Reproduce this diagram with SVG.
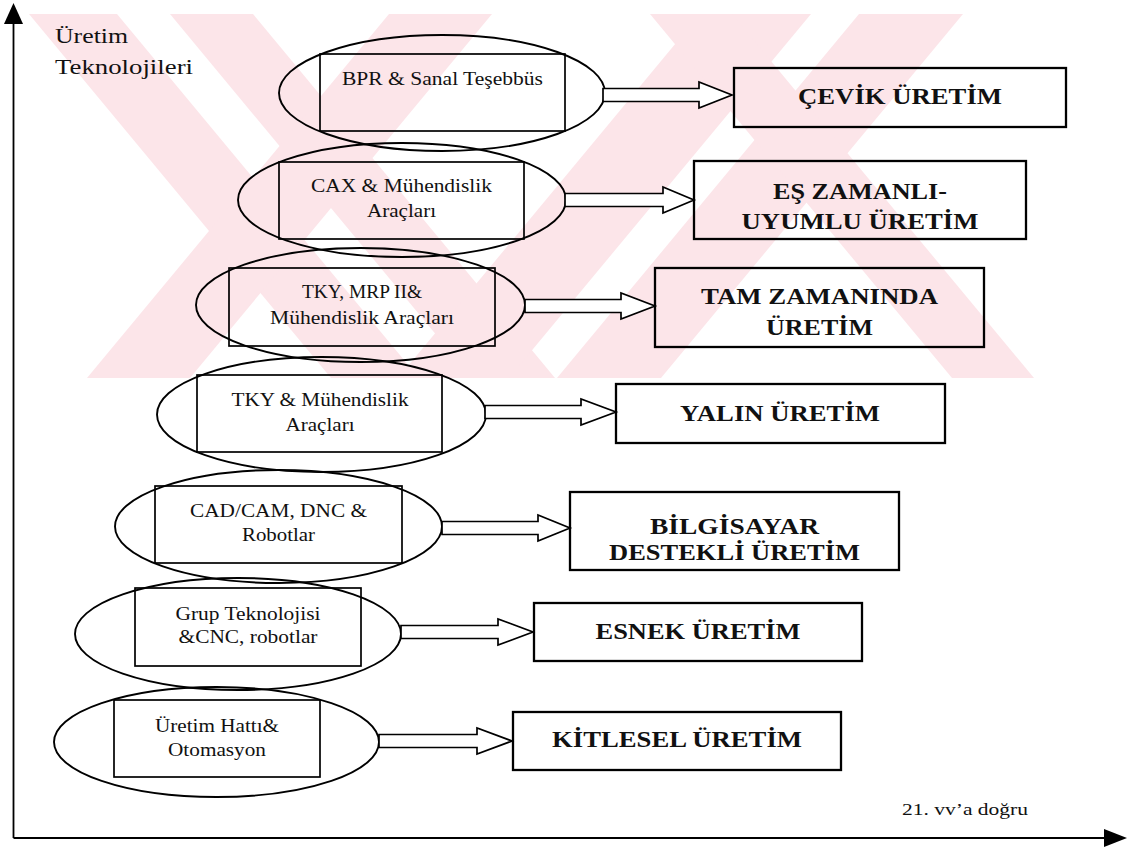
<svg xmlns="http://www.w3.org/2000/svg" width="1129" height="847" viewBox="0 0 1129 847">
  <style>
    .wm { fill: #fce5e9; stroke: none; }
    .ell { fill: none; stroke: #000; stroke-width: 1.9; }
    .inner { fill: none; stroke: #000; stroke-width: 1.7; }
    .box { fill: none; stroke: #000; stroke-width: 2.3; }
    .arrow { fill: #fff; stroke: #000; stroke-width: 1.7; stroke-linejoin: miter; }
    .axis { fill: none; stroke: #000; stroke-width: 1.8; }
    .head { fill: #000; stroke: none; }
    text { fill: #111; }
  </style>
  <defs>
    <clipPath id="wmClip">
      <rect x="25" y="14" width="1020" height="364"/>
    </clipPath>
  </defs>

  <rect width="1129" height="847" fill="#fff"/>

  <!-- faint background emblem -->
  <g id="watermark" clip-path="url(#wmClip)">
    <polygon class="wm" points="29,14 117,14 419,378 331,378"/>
    <polygon class="wm" points="170,14 253,14 555,378 472,378"/>
    <polygon class="wm" points="859,14 963,14 661,378 557,378"/>
    <polygon class="wm" points="700,14 811,14 509,378 398,378"/>
    <polygon class="wm" points="650,14 732,14 1034,378 952,378"/>
    <polygon class="wm" points="389,14 492,14 190,378 87,378"/>
  </g>

  <!-- axes -->
  <g id="axes" font-family="'Liberation Serif', 'DejaVu Serif', serif">
    <line class="axis" x1="13.5" y1="20" x2="13.5" y2="838"/>
    <polygon class="head" points="13.5,3 4,24 23,24"/>
    <line class="axis" x1="13.5" y1="838" x2="1106" y2="838"/>
    <polygon class="head" points="1127,838 1104,829 1104,847"/>
    <text x="55" y="43" font-size="21" textLength="73" lengthAdjust="spacingAndGlyphs">Üretim</text>
    <text x="55" y="74" font-size="21" textLength="138" lengthAdjust="spacingAndGlyphs">Teknolojileri</text>
    <text x="902" y="815" font-size="17" textLength="126" lengthAdjust="spacingAndGlyphs">21. vv’a doğru</text>
  </g>

  <!-- technology nodes -->
  <g font-family="'Liberation Serif', 'DejaVu Serif', serif" font-size="19" text-anchor="middle">
    <g id="tech-bpr">
      <ellipse class="ell" cx="442" cy="93" rx="163" ry="58"/>
      <rect class="inner" x="320" y="54" width="245" height="77"/>
      <text x="442.5" y="85" textLength="201" lengthAdjust="spacingAndGlyphs">BPR &amp; Sanal Teşebbüs</text>
    </g>
    <g id="tech-cax">
      <ellipse class="ell" cx="402" cy="200" rx="164" ry="57"/>
      <rect class="inner" x="279" y="162" width="245" height="77"/>
      <text x="401.5" y="192" textLength="181" lengthAdjust="spacingAndGlyphs">CAX &amp; Mühendislik</text>
      <text x="401.5" y="217" textLength="69" lengthAdjust="spacingAndGlyphs">Araçları</text>
    </g>
    <g id="tech-tky-mrp">
      <ellipse class="ell" cx="360.5" cy="305" rx="164.5" ry="57"/>
      <rect class="inner" x="229" y="268" width="266" height="78"/>
      <text x="362" y="298" textLength="120" lengthAdjust="spacingAndGlyphs">TKY, MRP II&amp;</text>
      <text x="362" y="324" textLength="184" lengthAdjust="spacingAndGlyphs">Mühendislik Araçları</text>
    </g>
    <g id="tech-tky">
      <ellipse class="ell" cx="321.5" cy="414.5" rx="164.5" ry="57.5"/>
      <rect class="inner" x="197" y="375" width="245" height="77"/>
      <text x="320" y="406" textLength="177" lengthAdjust="spacingAndGlyphs">TKY &amp; Mühendislik</text>
      <text x="320" y="431" textLength="69" lengthAdjust="spacingAndGlyphs">Araçları</text>
    </g>
    <g id="tech-cadcam">
      <ellipse class="ell" cx="278.5" cy="526.5" rx="163.5" ry="56.5"/>
      <rect class="inner" x="155" y="486" width="247" height="77"/>
      <text x="278.5" y="517" textLength="177" lengthAdjust="spacingAndGlyphs">CAD/CAM, DNC &amp;</text>
      <text x="278.5" y="541" textLength="73" lengthAdjust="spacingAndGlyphs">Robotlar</text>
    </g>
    <g id="tech-grup">
      <ellipse class="ell" cx="238" cy="634" rx="163" ry="56"/>
      <rect class="inner" x="135" y="588" width="226" height="78"/>
      <text x="248" y="620" textLength="145" lengthAdjust="spacingAndGlyphs">Grup Teknolojisi</text>
      <text x="248" y="643" textLength="139" lengthAdjust="spacingAndGlyphs">&amp;CNC, robotlar</text>
    </g>
    <g id="tech-hat">
      <ellipse class="ell" cx="216.5" cy="742" rx="162.5" ry="55"/>
      <rect class="inner" x="114" y="700" width="206" height="77"/>
      <text x="217" y="732" textLength="124" lengthAdjust="spacingAndGlyphs">Üretim Hattı&amp;</text>
      <text x="217" y="756" textLength="98" lengthAdjust="spacingAndGlyphs">Otomasyon</text>
    </g>
  </g>

  <!-- production paradigm nodes -->
  <g font-family="'Liberation Serif', 'DejaVu Serif', serif" font-size="24" font-weight="bold" text-anchor="middle">
    <g id="mode-cevik">
      <rect class="box" x="734" y="68" width="332" height="59"/>
      <text x="900" y="104" textLength="204" lengthAdjust="spacingAndGlyphs">ÇEVİK ÜRETİM</text>
    </g>
    <g id="mode-es-zamanli">
      <rect class="box" x="694" y="161" width="332" height="78"/>
      <text x="860" y="199" textLength="174" lengthAdjust="spacingAndGlyphs">EŞ ZAMANLI-</text>
      <text x="860" y="229" textLength="237" lengthAdjust="spacingAndGlyphs">UYUMLU ÜRETİM</text>
    </g>
    <g id="mode-tam-zamaninda">
      <rect class="box" x="655" y="268" width="329" height="79"/>
      <text x="819.5" y="304" textLength="237" lengthAdjust="spacingAndGlyphs">TAM ZAMANINDA</text>
      <text x="819.5" y="335" textLength="107" lengthAdjust="spacingAndGlyphs">ÜRETİM</text>
    </g>
    <g id="mode-yalin">
      <rect class="box" x="616" y="384" width="329" height="59"/>
      <text x="780" y="421" textLength="200" lengthAdjust="spacingAndGlyphs">YALIN ÜRETİM</text>
    </g>
    <g id="mode-bilgisayar">
      <rect class="box" x="570" y="492" width="329" height="78"/>
      <text x="734.5" y="534" textLength="169" lengthAdjust="spacingAndGlyphs">BİLGİSAYAR</text>
      <text x="734.5" y="560" textLength="251" lengthAdjust="spacingAndGlyphs">DESTEKLİ ÜRETİM</text>
    </g>
    <g id="mode-esnek">
      <rect class="box" x="534" y="603" width="328" height="58"/>
      <text x="698" y="639" textLength="205" lengthAdjust="spacingAndGlyphs">ESNEK ÜRETİM</text>
    </g>
    <g id="mode-kitlesel">
      <rect class="box" x="513" y="712" width="328" height="58"/>
      <text x="677" y="747" textLength="250" lengthAdjust="spacingAndGlyphs">KİTLESEL ÜRETİM</text>
    </g>
  </g>

  <!-- hollow block arrows: technology -> paradigm -->
  <g id="connectors">
    <path class="arrow" d="M603,88.5 H699 V82 L732,95 L699,108 V101.5 H603 Z"/>
    <path class="arrow" d="M565,193.5 H663 V187 L694,200 L663,213 V206.5 H565 Z"/>
    <path class="arrow" d="M525,299.5 H621 V293 L655,306 L621,319 V312.5 H525 Z"/>
    <path class="arrow" d="M485,405.5 H581 V399 L616,412 L581,425 V418.5 H485 Z"/>
    <path class="arrow" d="M442,521.5 H538 V515 L570,528 L538,541 V534.5 H442 Z"/>
    <path class="arrow" d="M401,625.5 H498 V619 L533,632 L498,645 V638.5 H401 Z"/>
    <path class="arrow" d="M379,734.5 H477 V728 L512,741 L477,754 V747.5 H379 Z"/>
  </g>
</svg>
